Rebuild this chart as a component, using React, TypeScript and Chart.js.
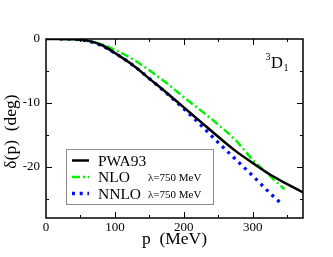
import React, { useEffect, useRef } from "react";
import { Chart, registerables } from "chart.js";

Chart.register(...registerables);

const PWA_P = [0, 20, 40, 50, 60, 80, 100, 125, 150, 175, 200, 225, 250, 275, 300, 325, 350, 373];
const PWA_D = [0, 0, -0.02, -0.1, -0.25, -0.9, -2.2, -4.0, -6.2, -8.4, -10.7, -13.0, -15.3, -17.5, -19.4, -21.2, -22.7, -24.0];

const NLO_P = [20, 40, 60, 80, 100, 125, 150, 175, 200, 225, 250, 275, 300, 325, 346];
const NLO_D = [0, -0.05, -0.3, -0.8, -1.7, -3.1, -4.9, -6.9, -9.1, -11.2, -13.4, -15.8, -18.9, -21.4, -23.5];

const NNLO_P = [20, 40, 60, 80, 100, 125, 150, 175, 200, 225, 250, 275, 300, 325, 342];
const NNLO_D = [0, -0.05, -0.3, -1.0, -2.2, -4.0, -6.2, -8.5, -10.9, -13.5, -16.2, -18.8, -21.4, -24.1, -25.8];

const X_TICKS = [0, 100, 200, 300];
const X_MINOR = [50, 150, 250, 350];
const Y_TICKS = [-20, -10, 0];
const Y_MINOR = [-25, -15, -5];

const LEGEND = [
  { label: "PWA93", note: "" },
  { label: "NLO", note: "λ=750 MeV" },
  { label: "NNLO", note: "λ=750 MeV" },
];

const SERIF = "'Liberation Serif', 'Times New Roman', serif";

const toPts = (p: number[], d: number[]) => p.map((x, i) => ({ x, y: d[i] }));

const decorPlugin = {
  id: "decor",
  afterDatasetsDraw(chart: any) {
    const { ctx, chartArea: a, scales } = chart;
    const xs = scales.x;
    const ys = scales.y;
    ctx.save();
    // frame
    ctx.strokeStyle = "#000";
    ctx.lineWidth = 1.5;
    ctx.strokeRect(a.left, a.top, a.right - a.left, a.bottom - a.top);
    ctx.lineWidth = 1;
    const tick = (vals: number[], len: number, horizontal: boolean) => {
      vals.forEach((v) => {
        if (horizontal) {
          const x = Math.round(xs.getPixelForValue(v)) + 0.5;
          ctx.beginPath();
          ctx.moveTo(x, a.bottom);
          ctx.lineTo(x, a.bottom - len);
          ctx.moveTo(x, a.top);
          ctx.lineTo(x, a.top + len);
          ctx.stroke();
        } else {
          const y = Math.round(ys.getPixelForValue(v)) + 0.5;
          ctx.beginPath();
          ctx.moveTo(a.left, y);
          ctx.lineTo(a.left + len, y);
          ctx.moveTo(a.right, y);
          ctx.lineTo(a.right - len, y);
          ctx.stroke();
        }
      });
    };
    tick(X_TICKS.slice(1), 6, true);
    tick(X_MINOR, 3, true);
    tick(Y_TICKS.slice(0, -1), 6, false);
    tick(Y_MINOR, 3, false);

    // axis titles
    ctx.fillStyle = "#000";
    ctx.font = `17.5px ${SERIF}`;
    ctx.textAlign = "center";
    ctx.textBaseline = "alphabetic";
    ctx.fillText("p  (MeV)", (a.left + a.right) / 2, 244);
    ctx.save();
    ctx.translate(16, (a.top + a.bottom) / 2 + 3);
    ctx.rotate(-Math.PI / 2);
    ctx.fillText("δ(p)  (deg)", 0, 0);
    ctx.restore();

    // 3D1 annotation
    ctx.textAlign = "left";
    ctx.font = `10px ${SERIF}`;
    ctx.fillText("3", 265.5, 60);
    ctx.font = `16.5px ${SERIF}`;
    ctx.fillText("D", 271, 68);
    const dw = ctx.measureText("D").width;
    ctx.font = `10px ${SERIF}`;
    ctx.fillText("1", 271 + dw + 0.5, 71);

    // legend
    const bx = 66.5, by = 149.5, bw = 147, bh = 55;
    ctx.fillStyle = "#fff";
    ctx.fillRect(bx, by, bw, bh);
    ctx.strokeStyle = "#8c8c8c";
    ctx.lineWidth = 1;
    ctx.strokeRect(bx, by, bw, bh);
    const rows = [160.5, 177, 193.5];
    const ds = chart.data.datasets;
    LEGEND.forEach((item, i) => {
      const y = rows[i];
      const d = ds[i];
      ctx.save();
      ctx.strokeStyle = d.borderColor;
      ctx.lineWidth = d.borderWidth;
      ctx.setLineDash(d.borderDash || []);
      ctx.beginPath();
      ctx.moveTo(72, y);
      ctx.lineTo(89, y);
      ctx.stroke();
      ctx.restore();
      ctx.fillStyle = "#000";
      ctx.textBaseline = "middle";
      ctx.font = `15.5px ${SERIF}`;
      ctx.fillText(item.label, 98, y + 1);
      if (item.note) {
        ctx.font = `11px ${SERIF}`;
        ctx.fillText(item.note, 148, y + 1.5);
      }
    });
    ctx.restore();
  },
};

export default function App() {
  const ref = useRef<HTMLCanvasElement | null>(null);
  useEffect(() => {
    if (!ref.current) return;
    const chart = new Chart(ref.current, {
      type: "line",
      data: {
        datasets: [
          {
            label: "PWA93",
            data: toPts(PWA_P, PWA_D),
            borderColor: "#000000",
            borderWidth: 2.5,
            pointRadius: 0,
            cubicInterpolationMode: "monotone",
          },
          {
            label: "NLO",
            data: toPts(NLO_P, NLO_D),
            borderColor: "#00f000",
            borderWidth: 2.5,
            borderDash: [8, 3, 2, 3],
            pointRadius: 0,
            cubicInterpolationMode: "monotone",
          },
          {
            label: "NNLO",
            data: toPts(NNLO_P, NNLO_D),
            borderColor: "#0010f8",
            borderWidth: 3.3,
            borderDash: [3, 4.7],
            pointRadius: 0,
            cubicInterpolationMode: "monotone",
          },
        ],
      } as any,
      options: {
        animation: false,
        responsive: false,
        maintainAspectRatio: false,
        layout: { padding: { left: 0, top: 39, right: 30, bottom: 0 } },
        plugins: { legend: { display: false }, tooltip: { enabled: false } },
        scales: {
          x: {
            type: "linear",
            min: 0,
            max: 373,
            grid: { display: false, drawTicks: false },
            border: { display: false },
            afterBuildTicks: (s: any) => {
              s.ticks = X_TICKS.map((v) => ({ value: v }));
            },
            afterFit: (s: any) => {
              s.height = 39;
            },
            ticks: {
              padding: 2,
              color: "#000",
              font: { family: SERIF, size: 13 },
              maxRotation: 0,
              callback: (v: any) => String(v),
            },
          },
          y: {
            type: "linear",
            min: -28,
            max: 0,
            grid: { display: false, drawTicks: false },
            border: { display: false },
            afterBuildTicks: (s: any) => {
              s.ticks = Y_TICKS.map((v) => ({ value: v }));
            },
            afterFit: (s: any) => {
              s.width = 46;
            },
            ticks: {
              padding: 6,
              color: "#000",
              font: { family: SERIF, size: 13 },
              callback: (v: any) => String(v),
            },
          },
        },
      } as any,
      plugins: [decorPlugin],
    });
    return () => chart.destroy();
  }, []);
  return (
    <div style={{ position: "fixed", left: 0, top: 0, width: 333, height: 257, background: "#fff" }}>
      <canvas ref={ref} width={333} height={257} style={{ width: 333, height: 257, display: "block" }} />
    </div>
  );
}
